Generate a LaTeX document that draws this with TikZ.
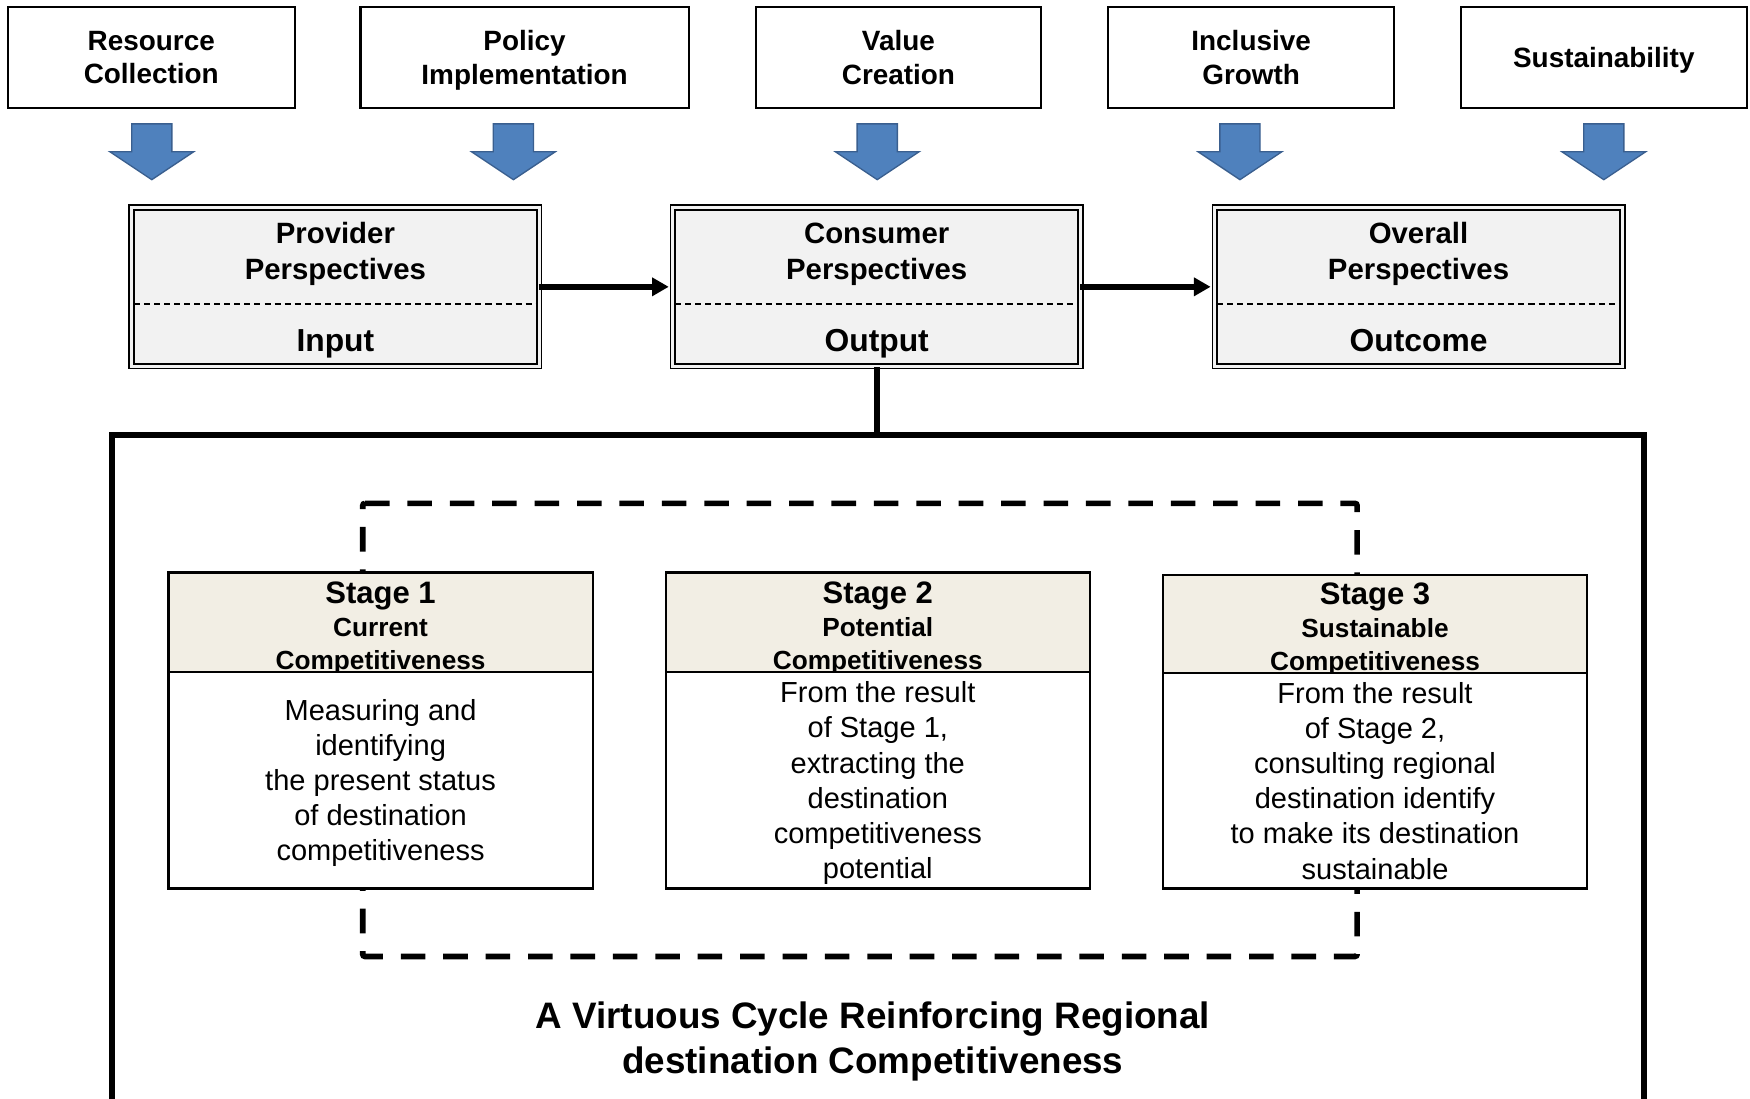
\documentclass[tikz,border=0pt]{standalone}
\usepackage{fontspec}
\setmainfont{Liberation Sans}
\usetikzlibrary{arrows.meta}

\definecolor{arrowblue}{HTML}{4F81BD}
\definecolor{arrowedge}{HTML}{3A5F8F}
\definecolor{boxgray}{HTML}{F2F2F2}
\definecolor{stagebeige}{HTML}{F2EEE4}

\newcommand\fsz[2]{\fontsize{#1}{#2}\selectfont}

\begin{document}
\begin{tikzpicture}[x=1pt,y=-1pt,
  topbox/.style={draw, line width=1.8pt, minimum width=#1, minimum height=91pt,
    inner sep=0pt, text depth=0pt, align=center, font=\fsz{25}{30}\bfseries},
  blockarrow/.style={fill=arrowblue, draw=arrowedge, line width=1.2pt, line join=miter},
  persp/.style={draw, double=boxgray, double distance=2.6pt, line width=1.6pt,
    fill=boxgray, minimum width=365.2pt, minimum height=142.2pt, inner sep=0pt},
  ptitle/.style={align=center, inner sep=0pt, text depth=0pt, font=\fsz{26.3}{32}\bfseries},
  pfoot/.style={inner sep=0pt, text depth=0pt, font=\fsz{28.5}{32}\bfseries},
  sepdash/.style={line width=1.9pt, dash pattern=on 5.4pt off 3.6pt},
  flow/.style={line width=5.2pt, -{Triangle[length=15pt,width=16pt]}},
  stagehead/.style={draw, line width=2pt, fill=stagebeige, minimum width=380pt,
    minimum height=#1, inner sep=0pt},
  stagebody/.style={draw, line width=2pt, fill=white, minimum width=380pt,
    minimum height=#1, inner sep=0pt, text depth=0pt, align=center, font=\fsz{26}{31.5}},
  stagenum/.style={inner sep=0pt, text depth=0pt, font=\fsz{27.8}{30}\bfseries},
  stagename/.style={inner sep=0pt, text depth=0pt, font=\fsz{23.5}{28}\bfseries},
]
\useasboundingbox (0,0) rectangle (1568,984);
\clip (0,0) rectangle (1568,984);

% the five guiding values
\node[topbox=257pt] (tb1) at (135.5,51.5) {Resource\\Collection};
\node[topbox=294pt] (tb2) at (470,51.5) {Policy\\Implementation};
\node[topbox=256pt] (tb3) at (805,51.5) {Value\\Creation};
\node[topbox=256pt] (tb4) at (1121,51.5) {Inclusive\\Growth};
\node[topbox=256pt] (tb5) at (1437,51.5) {Sustainability};

% block arrows under the values
\foreach \x in {136,460,786,1111,1437}
  \draw[blockarrow] (\x-18,111) -- (\x+18,111) -- (\x+18,136) -- (\x+37.5,136)
    -- (\x,161) -- (\x-37.5,136) -- (\x-18,136) -- cycle;

% the three perspectives
\node[persp] (pb1) at (300.5,257) {};
\node[persp] (pb2) at (785.5,257) {};
\node[persp] (pb3) at (1271,257) {};
\foreach \b in {pb1,pb2,pb3}
  \draw[sepdash] ([xshift=2.9pt,yshift=-15pt]\b.west) -- ([xshift=-2.9pt,yshift=-15pt]\b.east);

\node[ptitle] (pt1) at (300.5,225) {Provider\\Perspectives};
\node[ptitle] (pt2) at (785.5,225) {Consumer\\Perspectives};
\node[ptitle] (pt3) at (1271,225) {Overall\\Perspectives};
\node[pfoot] (pf1) at (300.5,305) {Input};
\node[pfoot] (pf2) at (785.5,305) {Output};
\node[pfoot] (pf3) at (1271,305) {Outcome};

\draw[flow, shorten <=-1pt, shorten >=2.9pt] (pb1) -- (pb2);
\draw[flow, shorten <=-1pt, shorten >=2.9pt] (pb2) -- (pb3);

% frame of the virtuous cycle
\coordinate (ftop) at (785.5,390);
\draw[line width=5.4pt] (pb2) -- (ftop);
\draw[line width=5.4pt] (100,1000) -- (100,390) -- (1473,390) -- (1473,1000);

% dashed cycle loop
\draw[line width=5pt, dash pattern=on 22pt off 16pt, rounded corners=2pt]
  (325,451) -- (1216,451) -- (1216,857) -- (325,857) -- cycle;

% stages
\node[stagehead=89pt] (s1h) at (341,557.5) {};
\node[stagenum] at (341,531) {Stage 1};
\node[stagename] at (341,562) {Current};
\node[stagename] at (341,591) {Competitiveness};
\node[stagebody=194pt] (s1b) at (341,699) {Measuring and\\identifying\\the present status\\of destination\\competitiveness};

\node[stagehead=89pt] (s2h) at (786.5,557.5) {};
\node[stagenum] at (786.5,531) {Stage 2};
\node[stagename] at (786.5,562) {Potential};
\node[stagename] at (786.5,591) {Competitiveness};
\node[stagebody=194pt] (s2b) at (786.5,699) {From the result\\of Stage 1,\\extracting the\\destination\\competitiveness\\potential};

\node[stagehead=88pt] (s3h) at (1232,559) {};
\node[stagenum] at (1232,532) {Stage 3};
\node[stagename] at (1232,563) {Sustainable};
\node[stagename] at (1232,592) {Competitiveness};
\node[stagebody=193pt] (s3b) at (1232,699.5) {From the result\\of Stage 2,\\consulting regional\\destination identify\\to make its destination\\sustainable};

% caption of the cycle
\node[align=center, inner sep=0pt, text depth=0pt, font=\fsz{33}{40}\bfseries] (cap) at (782,930)
  {A Virtuous Cycle Reinforcing Regional\\destination Competitiveness};
\end{tikzpicture}
\end{document}
